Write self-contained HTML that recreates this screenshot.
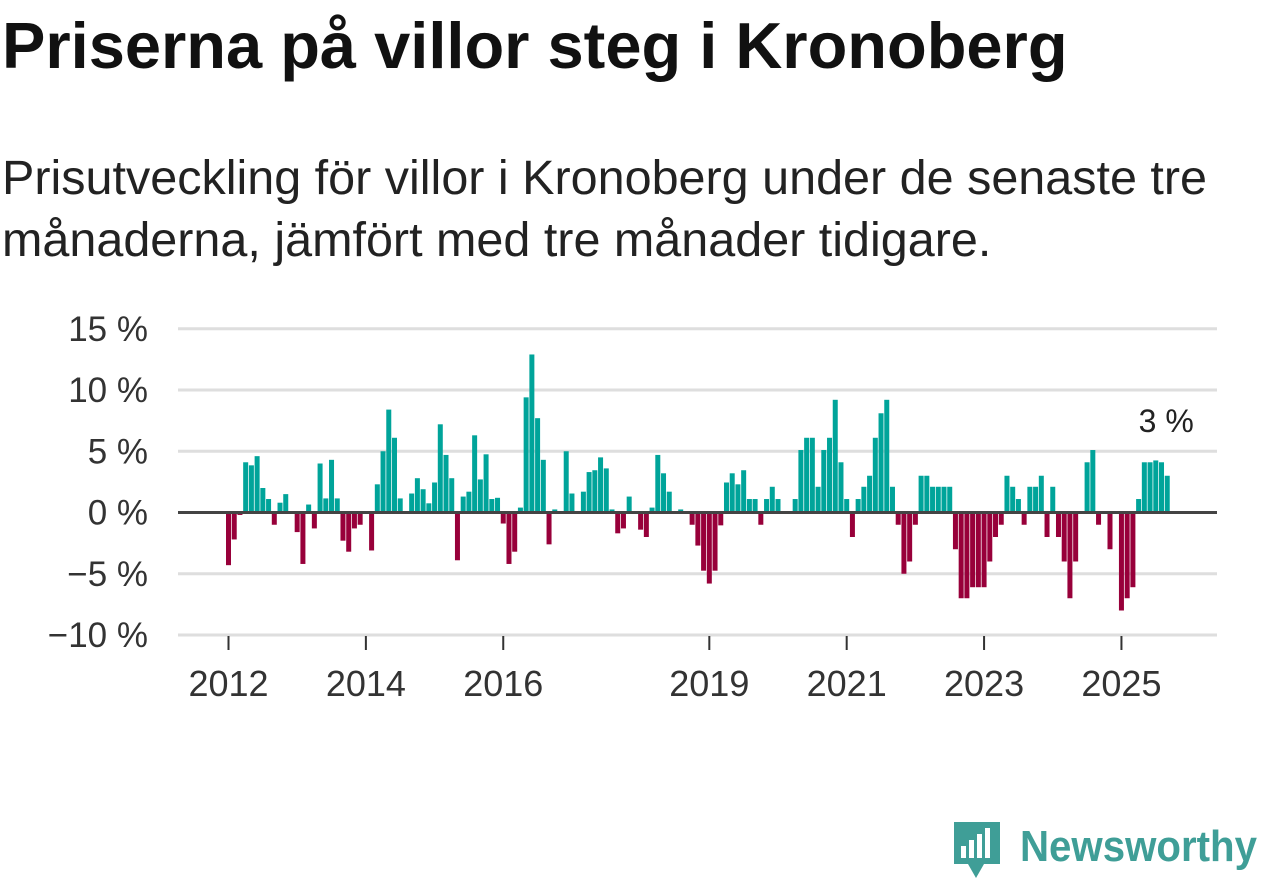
<!DOCTYPE html>
<html><head><meta charset="utf-8"><style>
body{margin:0;width:1262px;height:879px;background:#fff;overflow:hidden;font-family:"Liberation Sans",sans-serif;}
#title{position:absolute;left:2px;top:13px;font-size:65px;line-height:1;font-weight:bold;color:#111;margin:0;white-space:nowrap}
#sub{position:absolute;left:2px;top:147px;font-size:48.5px;line-height:62px;color:#222;margin:0;width:1250px}
svg{position:absolute;left:0;top:0}
</style></head><body>
<h1 id="title">Priserna på villor steg i Kronoberg</h1>
<p id="sub">Prisutveckling för villor i Kronoberg under de senaste tre månaderna, jämfört med tre månader tidigare.</p>
<svg id="chart" width="1262" height="879"></svg>
<script>
const startYear = 2012;
const values = [
-4.3,-2.2,-0.2,4.1,3.85,4.6,2.0,1.1,-1.0,0.8,1.5,0,
-1.6,-4.2,0.65,-1.3,4.0,1.15,4.3,1.15,-2.3,-3.2,-1.3,-1.0,
0,-3.1,2.3,5.0,8.4,6.1,1.15,0,1.55,2.8,1.9,0.75,
2.45,7.2,4.7,2.8,-3.9,1.3,1.7,6.3,2.7,4.75,1.1,1.2,
-0.9,-4.2,-3.2,0.4,9.4,12.9,7.7,4.3,-2.6,0.25,0,5.0,
1.55,0,1.7,3.3,3.45,4.5,3.6,0.25,-1.7,-1.3,1.3,0,
-1.4,-2.0,0.4,4.7,3.2,1.7,0,0.25,0,-1.0,-2.7,-4.75,
-5.8,-4.75,-1.05,2.45,3.2,2.3,3.45,1.1,1.1,-1.0,1.1,2.1,
1.1,0,0,1.1,5.1,6.1,6.1,2.1,5.1,6.1,9.2,4.1,
1.1,-2.0,1.1,2.1,3.0,6.1,8.1,9.2,2.1,-1.0,-5.0,-4.0,
-1.0,3.0,3.0,2.1,2.1,2.1,2.1,-3.0,-7.0,-7.0,-6.1,-6.1,
-6.1,-4.0,-2.0,-1.0,3.0,2.1,1.1,-1.0,2.1,2.1,3.0,-2.0,
2.1,-2.0,-4.0,-7.0,-4.0,0,4.1,5.1,-1.0,0,-3.0,0,
-8.0,-7.0,-6.1,1.1,4.1,4.1,4.25,4.1,3.0
];
const yTicks = [15,10,5,0,-5,-10];
const yTickLabels = ["15 %","10 %","5 %","0 %","\u22125 %","\u221210 %"];
const xTickYears = [2012,2014,2016,2019,2021,2023,2025];
const lastLabel = "3 %";

const svg = document.getElementById('chart');
const NS = 'http://www.w3.org/2000/svg';
const y0 = 512.5, pxPer = 12.25;
const yScale = v => y0 - v * pxPer;
const x0 = 228.5, step = 5.724;
const xScale = m => x0 + m * step;
function mk(tag, attrs){const e=document.createElementNS(NS,tag);for(const k in attrs)e.setAttribute(k,attrs[k]);svg.appendChild(e);return e;}

yTicks.forEach((t,i)=>{
  if(t!==0){
    const g = mk('line',{x1:178,x2:1217,y1:yScale(t),y2:yScale(t),stroke:'#dedede','stroke-width':3});
    
    
  }
  const l = mk('text',{x:148,y:yScale(t)+12,'text-anchor':'end','font-size':35,fill:'#333','font-family':'Liberation Sans, sans-serif'});
  l.textContent = yTickLabels[i];
  
  
});

values.forEach((v,m)=>{
  if(v===0) return;
  const top = Math.min(yScale(v), y0), h = Math.abs(yScale(v)-y0);
  const r = mk('rect',{x:xScale(m)-2.5,y:top,width:5,height:h,fill:v>0?'#00a49a':'#98003a'});
  
  
});

const zl = mk('line',{x1:178,x2:1217,y1:y0,y2:y0,stroke:'#444','stroke-width':3});



xTickYears.forEach(yr=>{
  const x = xScale((yr-startYear)*12);
  const tk = mk('line',{x1:x,x2:x,y1:636,y2:650,stroke:'#333','stroke-width':2});
  
  
  const t = mk('text',{x:x,y:696,'text-anchor':'middle','font-size':36,fill:'#333','font-family':'Liberation Sans, sans-serif'});
  t.textContent = yr;
  
  
});

const last = values.length-1;
const ll = mk('text',{x:xScale(last)-1,y:yScale(values[last])-44,'text-anchor':'middle','font-size':32,fill:'#222','font-family':'Liberation Sans, sans-serif',stroke:'#fff','stroke-width':4,'paint-order':'stroke'});
ll.textContent = lastLabel;



const lg = document.createElementNS(NS,'g');


svg.appendChild(lg);
lg.innerHTML = '<path d="M954 822 h46 v42 h-16 l-8 14 l-8 -14 h-14 z" fill="#3f9e97"/>'+
'<rect x="961" y="846" width="5" height="12" fill="#fff"/><rect x="969" y="840" width="5" height="18" fill="#fff"/><rect x="977" y="834" width="5" height="24" fill="#fff"/><rect x="985" y="828" width="5" height="30" fill="#fff"/>'+
'<text x="1020" y="861" font-size="44" font-weight="bold" fill="#3f9e97" font-family="Liberation Sans, sans-serif" textLength="237" lengthAdjust="spacingAndGlyphs">Newsworthy</text>';
</script>
</body></html>
